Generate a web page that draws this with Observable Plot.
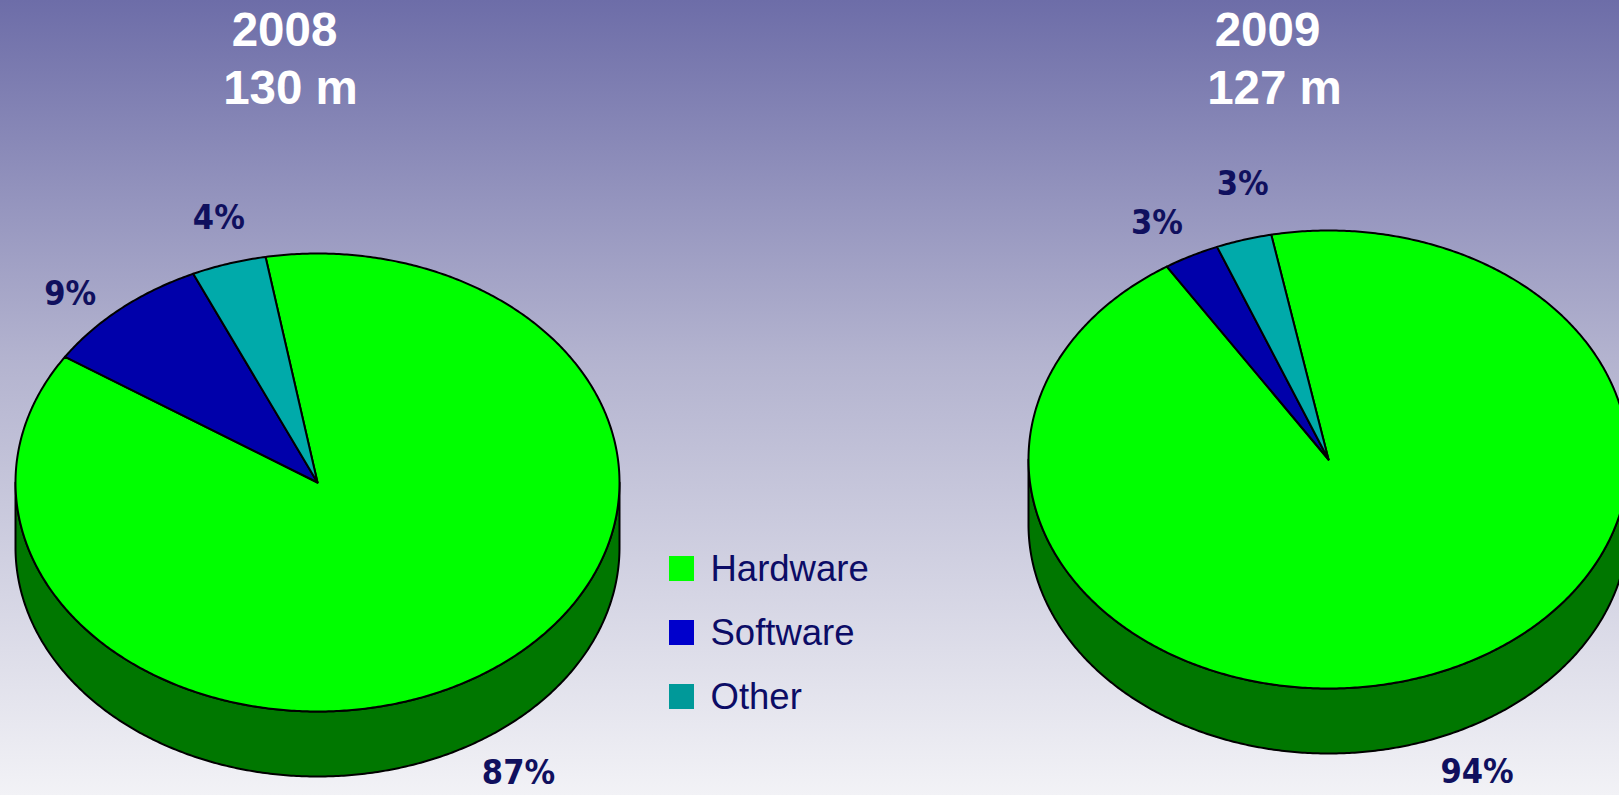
<!DOCTYPE html>
<html><head><meta charset="utf-8">
<script src="https://cdn.jsdelivr.net/npm/d3@7"></script>
<script src="https://cdn.jsdelivr.net/npm/@observablehq/plot@0.6"></script>
<style>
html,body{margin:0;padding:0;width:1619px;height:795px;overflow:hidden;
background:linear-gradient(to bottom,#6d6da8 0%,#b3b3cf 45%,#f2f2f6 100%);}
</style></head><body><div id="chart"></div>
<script>
const years = ["2008", "2009"];
const totals = ["130 m", "127 m"];
const categories = ["Hardware", "Software", "Other"];
const share2008 = [87, 9, 4];
const share2009 = [94, 3, 3];
const topColors = ["#00ff00", "#0000aa", "#00aaaa"];
const sideColors = ["#007700", "#000080", "#007777"];
const legendColors = ["#00ff00", "#0000cc", "#009999"];

const W = 1619, H = 795;
const layout = [
  {cx: 317, cy: 482, rx: 302, ry: 229, depth: 65, start: -9.9, titleX: 284, totalX: 290,
   labelK: [1.19, 1.16, 1.2], labelShift: [-0.7, -4.4, 1.3]},
  {cx: 1328, cy: 459, rx: 300, ry: 229, depth: 65, start: -11, titleX: 1267, totalX: 1274,
   labelK: [1.19, 1.18, 1.235], labelShift: [-2.8, -1.8, 3.0]}
];
const legendBox = {x: 669, y: 556, size: 25, step: 64, textX: 710};
const shares = [share2008, share2009];
const rad = Math.PI / 180;

const tops = [], sides = [], labels = [];
shares.forEach((vals, p) => {
  const L = layout[p];
  const s = L.start * rad;
  const arcs = d3.pie().sort(null).startAngle(s).endAngle(s + 2 * Math.PI)(vals);
  const pt = (a, dy = 0) => [L.cx + L.rx * Math.sin(a), L.cy - L.ry * Math.cos(a) + dy];
  const sample = (a0, a1) => {
    const n = Math.max(2, Math.ceil(Math.abs(a1 - a0) / (0.5 * rad)));
    return d3.range(n + 1).map(i => a0 + (a1 - a0) * i / n);
  };
  arcs.forEach((arc, i) => {
    const id = `${p}-${i}`;
    const poly = [[L.cx, L.cy], ...sample(arc.startAngle, arc.endAngle).map(a => pt(a)), [L.cx, L.cy]];
    poly.forEach(([x, y]) => tops.push({id, x, y, fill: topColors[i]}));
    for (let k = -1; k <= 1; k++) {
      const lo = Math.max(arc.startAngle, Math.PI / 2 + 2 * Math.PI * k);
      const hi = Math.min(arc.endAngle, 3 * Math.PI / 2 + 2 * Math.PI * k);
      if (hi > lo) {
        const as = sample(lo, hi);
        const ring = [...as.map(a => pt(a)), ...as.slice().reverse().map(a => pt(a, L.depth))];
        ring.push(ring[0]);
        ring.forEach(([x, y]) => sides.push({id: id + "s" + k, x, y, fill: sideColors[i]}));
      }
    }
    const mid = (arc.startAngle + arc.endAngle) / 2 + L.labelShift[i] * rad;
    const front = Math.cos(mid) < 0;
    labels.push({
      x: L.cx + L.labelK[i] * L.rx * Math.sin(mid),
      y: L.cy - L.labelK[i] * L.ry * Math.cos(mid) + (front ? L.depth : 0),
      text: `${vals[i]}%`
    });
  });
});

const titleFont = "'Liberation Sans', Arial, Helvetica, sans-serif";
const narrowFont = "'Liberation Sans Narrow', 'Arial Narrow', 'DejaVu Sans Condensed', 'Liberation Sans', sans-serif";

const chart = Plot.plot({
  width: W, height: H, margin: 0,
  x: {domain: [0, W], range: [0, W], axis: null},
  y: {domain: [0, H], range: [0, H], axis: null},
  color: {type: "identity"},
  style: {background: "transparent", overflow: "visible"},
  marks: [
    Plot.line(sides, {x: "x", y: "y", z: "id", fill: "fill", stroke: "#000", strokeWidth: 2, strokeLinejoin: "round", curve: "linear"}),
    Plot.line(tops, {x: "x", y: "y", z: "id", fill: "fill", stroke: "#000", strokeWidth: 2, strokeLinejoin: "round", curve: "linear"}),
    Plot.text(labels, {x: "x", y: "y", text: "text", fill: "#10105e", fontSize: 34, fontWeight: "bold", fontFamily: narrowFont, fontStretch: "condensed"}),
    Plot.text(years, {x: (d, i) => layout[i].titleX, y: () => 30, text: d => d, fill: "white", fontSize: 47.5, fontWeight: "bold", fontFamily: titleFont}),
    Plot.text(totals, {x: (d, i) => layout[i].totalX, y: () => 88, text: d => d, fill: "white", fontSize: 47.5, fontWeight: "bold", fontFamily: titleFont}),
    Plot.rect(categories, {
      x1: () => legendBox.x, x2: () => legendBox.x + legendBox.size,
      y1: (d, i) => legendBox.y + legendBox.step * i, y2: (d, i) => legendBox.y + legendBox.step * i + legendBox.size,
      fill: (d, i) => legendColors[i]
    }),
    Plot.text(categories, {
      x: () => legendBox.textX, y: (d, i) => legendBox.y + legendBox.step * i + legendBox.size / 2,
      text: d => d, textAnchor: "start", fill: "#0c0c66", fontSize: 36.5, fontFamily: titleFont
    })
  ]
});
document.getElementById("chart").appendChild(chart);
</script>
</body></html>
